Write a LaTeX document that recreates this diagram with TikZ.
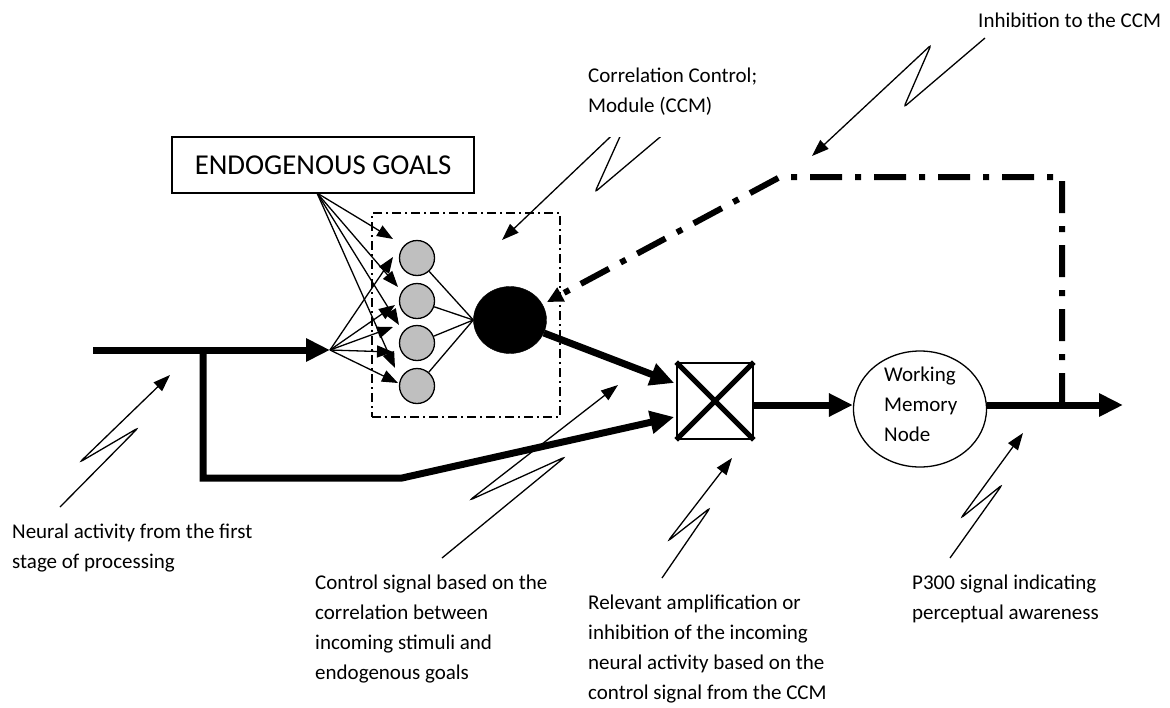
\documentclass[tikz,border=0pt]{standalone}
\usepackage{fontspec}
\setmainfont{Carlito}
\usetikzlibrary{arrows.meta,calc,shapes.geometric}
\begin{document}
\begin{tikzpicture}[x=1pt,y=-1pt,
  lbl/.style={anchor=north west, inner sep=0pt, align=left, font=\fontsize{21}{30}\selectfont},
  thinline/.style={line width=1.3pt},
  thinarrow/.style={line width=1.3pt, -{Triangle[length=16pt,width=12pt]}},
  thickarrow/.style={line width=7pt, -{Triangle[length=24pt,width=22pt]}},
  callout/.style={line width=1.3pt, rounded corners=3pt, -{Triangle[length=17pt,width=12pt]}},
  neuron/.style={circle, draw, line width=1.3pt, fill=black!25, minimum size=35pt, inner sep=0pt},
  inhib/.style={line width=6pt, dash pattern=on 32pt off 13pt on 6pt off 13pt,
                -{Triangle[length=16pt,width=15pt]}},
]
\useasboundingbox (0,0) rectangle (1170,707);

% goals box and correlation control module
\node[draw, line width=1.3pt, minimum width=302pt, minimum height=56pt, inner sep=0pt,
      font=\fontsize{28.8}{34}\selectfont] (goals) at (323,165) {ENDOGENOUS GOALS};
\node[draw, line width=1.3pt, dash pattern=on 9pt off 4pt on 2pt off 4pt,
      minimum width=188pt, minimum height=204pt, inner sep=0pt] (ccm) at (466,315) {};

\node[neuron] (g1) at (417,258) {};
\node[neuron] (g2) at (417,301) {};
\node[neuron] (g3) at (417,343) {};
\node[neuron] (g4) at (417,386) {};
\node[ellipse, fill=black, draw, minimum width=73pt, minimum height=67pt, inner sep=0pt] (bc) at (510,320) {};

% multiplier and working memory node
\node[draw, line width=1.6pt, minimum size=76pt, inner sep=0pt] (mx) at (715,401) {};
\draw[line width=5pt] (mx.north west) -- (mx.south east) (mx.north east) -- (mx.south west);
\node[ellipse, draw, line width=1.3pt, minimum width=133pt, minimum height=116pt, inner sep=0pt] (wm) at (920,409) {};
\node[lbl] (wmtext) at (884,367) {Working\\Memory\\Node};

% fan-out from the goals box
\coordinate (gf) at (317,193);
\draw[thinarrow] (gf) -- ($(g1)+(-24,-19)$);
\draw[thinarrow] (gf) -- ($(g2)+(-19,-14)$);
\draw[thinarrow] (gf) -- ($(g3)+(-18,-18)$);
\draw[thinarrow] (gf) -- ($(g4)+(-22,-18)$);

% incoming neural activity and its fan-out
\coordinate (in0) at (93,350);
\coordinate (fin) at (330,350);
\coordinate (br) at (203,350);
\draw[thickarrow] (in0) -- (fin);
\draw[thinarrow] (fin) -- ($(g1)+(-24,-1)$);
\draw[thinarrow] (fin) -- ($(g2)+(-22,4)$);
\draw[thinarrow] (fin) -- ($(g3)+(-24,-16)$);
\draw[thinarrow] (fin) -- ($(g3)+(-24,9)$);
\draw[thinarrow] (fin) -- ($(g4)+(-19,-3)$);

% hidden layer to output unit
\foreach \g in {g1,g2,g3,g4} \draw[thinline] (\g) -- (bc.west);

% bypass path and control signal into the multiplier
\draw[thickarrow] (br) -- (203,478) -- (402,478) -- ($(mx.west)+(-2,16)$);
\draw[thickarrow] (bc) -- ($(mx.west)+(-2,-18)$);

% multiplier to working memory, and output
\coordinate (mxo) at ($(mx.east)+(0,4)$);
\coordinate (out) at (1123,405);
\draw[thickarrow] (mxo) -- (mxo -| wm.west);
\draw[thickarrow] (wm.east |- mxo) -- (out);

% inhibition feedback to the CCM
\coordinate (inh) at (1062,405);
\draw[inhib] (inh) -- (1062,177) -- (780,177) -- ($(bc)+(37,-18)$);

% labels
\node[lbl] (l1) at (12,524) {Neural activity from the first\\stage of processing};
\node[lbl] (l2) at (315,575) {Control signal based on the\\correlation between\\incoming stimuli and\\endogenous goals};
\node[lbl] (l3) at (588,595) {Relevant amplification or\\inhibition of the incoming\\neural activity based on the\\control signal from the CCM};
\node[lbl] (l4) at (912,575) {P300 signal indicating\\perceptual awareness};
\node[lbl] (l5) at (588,68) {Correlation Control;\\Module (CCM)};
\node[lbl] (l6) at (978,13) {Inhibition to the CCM};

% callout pointers
\draw[callout] (60,507) -- (138,428) -- (80,462) -- (170,375);
\draw[callout] (442,558) -- (565,457) -- (470,500) -- (618,385);
\draw[callout] (662,578) -- (710,508) -- (668,541) -- (732,458);
\draw[callout] (950,558) -- (1002,485) -- (961,518) -- (1023,433);
\draw[callout] (985,38) -- (904,107) -- (931,45) -- (812,156);
\begin{scope}
  \clip (0,137) rectangle (1170,707);
  \draw[callout] (672,127) -- (595,192) -- (627,121) -- (502,240);
\end{scope}
\end{tikzpicture}
\end{document}
